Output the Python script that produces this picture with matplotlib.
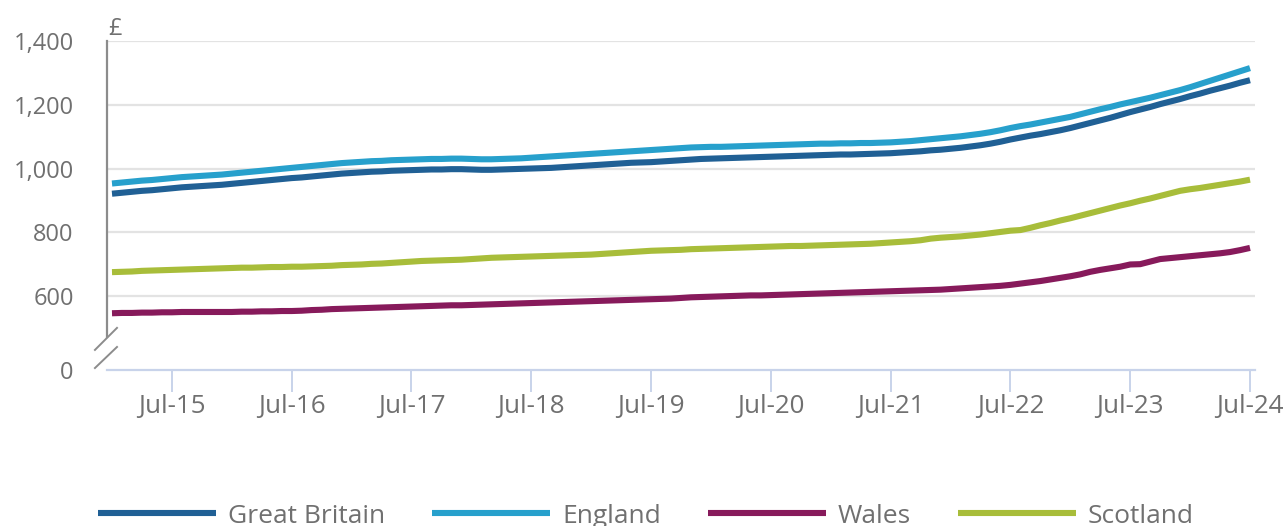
import matplotlib
matplotlib.use("Agg")
import matplotlib.pyplot as plt

plt.rcParams['font.family'] = ['Open Sans', 'DejaVu Sans']

# monthly values, Jan 2015 .. Jul 2024 (£ per month)
great_britain = [
    921, 924, 927, 930, 932, 935, 938, 941, 943, 945, 947, 949,
    952, 955, 958, 961, 964, 967, 970, 972, 975, 978, 981, 984,
    986, 988, 990, 991, 993, 994, 995, 996, 997, 997, 998, 998,
    997, 996, 996, 997, 998, 999, 1000, 1001, 1002, 1004, 1006, 1008,
    1010, 1012, 1014, 1016, 1018, 1019, 1020, 1022, 1024, 1026, 1028, 1030,
    1031, 1032, 1033, 1034, 1035, 1036, 1037, 1038, 1039, 1040, 1041, 1042,
    1043, 1044, 1044, 1045, 1046, 1047, 1048, 1050, 1052, 1054, 1057, 1059,
    1062, 1065, 1069, 1073, 1078, 1084, 1091, 1097, 1103, 1108, 1114, 1120,
    1127, 1135, 1143, 1151, 1159, 1168, 1177, 1185, 1193, 1202, 1210, 1218,
    1227, 1235, 1244, 1252, 1260, 1269, 1277,
]
england = [
    953, 956, 959, 962, 964, 967, 970, 973, 975, 977, 979, 981,
    984, 987, 990, 993, 996, 999, 1002, 1005, 1008, 1011, 1014, 1017,
    1019, 1021, 1023, 1024, 1026, 1027, 1028, 1029, 1030, 1030, 1031, 1031,
    1030, 1029, 1029, 1030, 1031, 1032, 1034, 1036, 1038, 1040, 1042, 1044,
    1046, 1048, 1050, 1052, 1054, 1056, 1058, 1060, 1062, 1064, 1066, 1067,
    1068, 1068, 1069, 1070, 1071, 1072, 1073, 1074, 1075, 1076, 1077, 1078,
    1078, 1079, 1079, 1080, 1080, 1081, 1082, 1084, 1086, 1089, 1092, 1095,
    1098, 1101, 1105, 1109, 1114, 1120, 1127, 1133, 1138, 1144, 1150, 1156,
    1162, 1170, 1178, 1186, 1193, 1201, 1208, 1215, 1222, 1230, 1238, 1246,
    1255, 1265, 1275, 1285, 1295, 1305, 1315,
]
wales = [
    546, 547, 547, 548, 548, 549, 549, 550, 550, 550, 550, 550,
    550, 551, 551, 552, 552, 553, 553, 554, 556, 557, 559, 560,
    561, 562, 563, 564, 565, 566, 567, 568, 569, 570, 571, 571,
    572, 573, 574, 575, 576, 577, 578, 579, 580, 581, 582, 583,
    584, 585, 586, 587, 588, 589, 590, 591, 592, 594, 596, 597,
    598, 599, 600, 601, 602, 602, 603, 604, 605, 606, 607, 608,
    609, 610, 611, 612, 613, 614, 615, 616, 617, 618, 619, 620,
    622, 624, 626, 628, 630, 632, 635, 639, 643, 647, 652, 657,
    662, 668, 676, 682, 687, 692, 699, 700, 708, 716, 719, 722,
    725, 728, 731, 734, 738, 744, 751,
]
scotland = [
    675, 676, 677, 679, 680, 681, 682, 683, 684, 685, 686, 687,
    688, 689, 689, 690, 691, 691, 692, 692, 693, 694, 695, 697,
    698, 699, 701, 702, 704, 706, 708, 710, 711, 712, 713, 714,
    716, 718, 720, 721, 722, 723, 724, 725, 726, 727, 728, 729,
    730, 732, 734, 736, 738, 740, 742, 743, 744, 745, 747, 748,
    749, 750, 751, 752, 753, 754, 755, 756, 757, 757, 758, 759,
    760, 761, 762, 763, 764, 766, 768, 770, 772, 775, 780, 783,
    785, 787, 790, 793, 797, 801, 805, 807, 814, 822, 829, 837,
    844, 852, 860, 868, 876, 884, 891, 899, 906, 914, 922, 930,
    935, 939, 944, 949, 954, 959, 965,
]

tick_labels = ['Jul-15', 'Jul-16', 'Jul-17', 'Jul-18', 'Jul-19',
               'Jul-20', 'Jul-21', 'Jul-22', 'Jul-23', 'Jul-24']
y_ticks = [600, 800, 1000, 1200, 1400]
y_zero = 368   # where the "0" sits below the axis break

series = [
    ('Great Britain', great_britain, '#206095'),
    ('England', england, '#27a0cc'),
    ('Wales', wales, '#871a5b'),
    ('Scotland', scotland, '#a8bd3a'),
]

grey = '#707070'
fig = plt.figure(figsize=(12.85, 5.26), dpi=100)
ax = fig.add_axes([107/1285, 1 - 370/526, 1148/1285, 329/526])

months = list(range(len(great_britain)))
for name, vals, col in series:
    ax.plot(months, vals, color=col, lw=4.4, label=name, solid_capstyle='butt')

ax.set_xlim(-0.5, len(months) - 0.5)
ax.set_ylim(y_zero, 1400)

ax.set_yticks([y_zero] + y_ticks)
ax.set_yticklabels(['0'] + ['{:,}'.format(v) for v in y_ticks])
for v in y_ticks:
    ax.axhline(v, color='#e3e3e3', lw=1.6, zorder=0)

xt = [m for m in months if m % 12 == 6]
ax.set_xticks(xt)
ax.set_xticklabels(tick_labels)

ax.tick_params(axis='y', length=0, pad=24, labelsize=17, labelcolor=grey)
ax.tick_params(axis='x', length=16, width=1.4, color='#c8d3ea', pad=1.5,
               labelsize=18.7, labelcolor=grey)

for s in ['top', 'right']:
    ax.spines[s].set_visible(False)
ax.spines['bottom'].set_color('#c8d3ea')
ax.spines['bottom'].set_linewidth(1.6)
ax.spines['left'].set_color('#8c8c8c')
ax.spines['left'].set_linewidth(1.6)
ax.spines['left'].set_bounds(471, 1400)

# axis break marks
for y0, y1 in [(0.061, 0.128), (0.006, 0.070)]:
    ax.plot([-0.0105, 0.0087], [y0, y1], transform=ax.transAxes,
            color='#8c8c8c', lw=1.4, clip_on=False)

ax.text(0.001, 1.018, '£', transform=ax.transAxes, fontsize=17,
        color=grey, va='baseline', ha='left')

fig.legend(loc='lower center', bbox_to_anchor=(0.5027, -0.05), ncol=4,
           frameon=False, fontsize=19, labelcolor=grey, handlelength=4.47,
           handletextpad=0.45, columnspacing=1.78)

fig.savefig('out.png', dpi=100)
